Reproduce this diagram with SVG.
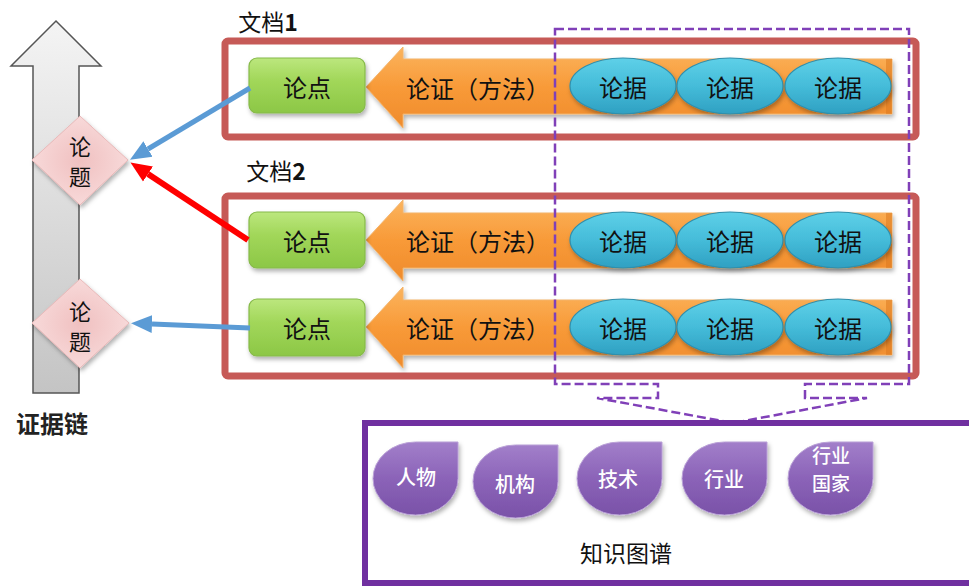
<svg xmlns="http://www.w3.org/2000/svg" width="969" height="588" viewBox="0 0 969 588">
<style>
text{font-family:"Noto Sans CJK SC","Liberation Sans",sans-serif;dominant-baseline:central;text-anchor:middle;fill:#111}
.lbl{font-size:24px}
.dia{font-size:22px}
.kg{font-size:20px;fill:#fff;font-weight:500}
.redbox{fill:none;stroke:#c65a57;stroke-width:7}
.green{fill:url(#gGreen);stroke:#86b94a;stroke-width:1.2;filter:url(#sh)}
.orange{fill:url(#gOrange);stroke:#f3b36b;stroke-width:1;filter:url(#sh)}
.ell{fill:url(#gBlue);stroke:#2e8fae;stroke-width:1.2;filter:url(#sh)}
.diamond{fill:url(#gPink);stroke:#e8b8b8;stroke-width:1;filter:url(#sh)}
.drop{fill:url(#gPurple);stroke:#b9a0d6;stroke-width:1;filter:url(#sh)}
.dash{fill:none;stroke:#8040b8;stroke-width:2.5;stroke-dasharray:9 4}
</style>
<defs>
<filter id="sh" x="-20%" y="-20%" width="140%" height="150%">
<feDropShadow dx="1.5" dy="3" stdDeviation="2" flood-color="#000" flood-opacity="0.3"/>
</filter>
<linearGradient id="gArrow" x1="0" y1="0" x2="0" y2="1">
<stop offset="0" stop-color="#f4f4f4"/><stop offset="1" stop-color="#c4c4c4"/>
</linearGradient>
<linearGradient id="gGreen" x1="0" y1="0" x2="0" y2="1">
<stop offset="0" stop-color="#bce77e"/><stop offset="0.4" stop-color="#a2d75a"/><stop offset="1" stop-color="#8cc746"/>
</linearGradient>
<linearGradient id="gOrange" x1="0" y1="0" x2="0" y2="1">
<stop offset="0" stop-color="#fbb45e"/><stop offset="0.5" stop-color="#f89a38"/><stop offset="1" stop-color="#ef8b2c"/>
</linearGradient>
<linearGradient id="gBlue" x1="0" y1="0" x2="0" y2="1">
<stop offset="0" stop-color="#5ed0e8"/><stop offset="0.5" stop-color="#45bcd9"/><stop offset="1" stop-color="#2fa0c2"/>
</linearGradient>
<radialGradient id="gPink" cx="0.5" cy="0.5" r="0.6">
<stop offset="0" stop-color="#f0c0c0"/><stop offset="1" stop-color="#f9dede"/>
</radialGradient>
<linearGradient id="gPurple" x1="0" y1="0" x2="0" y2="1">
<stop offset="0" stop-color="#a27fca"/><stop offset="0.5" stop-color="#8b63b8"/><stop offset="1" stop-color="#7a52a8"/>
</linearGradient>
<path id="drop" d="M85,0 V36.5 A42.5 36.5 0 0 1 42.5 73 A42.5 36.5 0 0 1 0 36.5 A42.5 36.5 0 0 1 42.5 0 Z"/>
<marker id="mBlue" markerUnits="userSpaceOnUse" markerWidth="24" markerHeight="20" refX="0" refY="10" orient="auto" viewBox="0 0 24 20">
<path d="M0,1 L21,10 L0,19 Z" fill="#5b9bd5"/>
</marker>
<marker id="mRed" markerUnits="userSpaceOnUse" markerWidth="24" markerHeight="20" refX="0" refY="10" orient="auto" viewBox="0 0 24 20">
<path d="M0,1 L21,10 L0,19 Z" fill="#ff0000"/>
</marker>
</defs>
<rect width="969" height="588" fill="#fff"/>

<g id="chain">
<path d="M56,21 L101,66 H79 V393 H33 V66 H11 Z" fill="url(#gArrow)" stroke="#555" stroke-width="1.5" stroke-linejoin="miter"/>
<text x="52" y="422" style="font-size:24px;font-weight:bold;fill:#222">证据链</text>
</g>

<g id="topic1">
<path class="diamond" d="M80,116 L128,160 L80,205 L32,160 Z"/>
<text class="dia" x="80" y="145">论</text>
<text class="dia" x="80" y="175">题</text>
</g>
<g id="topic2">
<path class="diamond" d="M80,279 L129,323 L80,368 L32,323 Z"/>
<text class="dia" x="80" y="310">论</text>
<text class="dia" x="80" y="340">题</text>
</g>

<g id="doc1">
<text x="268" y="21" style="font-size:23px">文档<tspan style="font-weight:bold">1</tspan></text>
<rect class="redbox" x="225" y="41" width="691" height="96" rx="3"/>
</g>
<g id="doc2">
<text x="276" y="170" style="font-size:23px">文档<tspan style="font-weight:bold">2</tspan></text>
<rect class="redbox" x="225" y="196" width="691" height="180" rx="3"/>
</g>

<g id="row1">
<path class="orange" d="M366,87 L403,47 V59 H892 V114 H403 V128 Z"/>
<path d="M886,59 L892,59 L892,114 L886,114 Z" fill="#d9761c" opacity="0.5"/>
<text class="lbl" x="478" y="87">论证（方法）</text>
<rect class="green" x="249" y="58" width="116" height="55" rx="8"/>
<text class="lbl" x="307" y="86">论点</text>
<ellipse class="ell" cx="623" cy="86" rx="53" ry="28"/>
<text class="lbl" x="623" y="86">论据</text>
<ellipse class="ell" cx="730" cy="86" rx="53" ry="28"/>
<text class="lbl" x="730" y="86">论据</text>
<ellipse class="ell" cx="838" cy="86" rx="53" ry="28"/>
<text class="lbl" x="838" y="86">论据</text>
</g>

<g id="row2">
<path class="orange" d="M366,240 L403,200 V213 H892 V268 H403 V281 Z"/>
<path d="M886,213 L892,213 L892,268 L886,268 Z" fill="#d9761c" opacity="0.5"/>
<text class="lbl" x="478" y="240">论证（方法）</text>
<rect class="green" x="249" y="212" width="116" height="56" rx="8"/>
<text class="lbl" x="307" y="240">论点</text>
<ellipse class="ell" cx="623" cy="240" rx="53" ry="28"/>
<text class="lbl" x="623" y="240">论据</text>
<ellipse class="ell" cx="730" cy="240" rx="53" ry="28"/>
<text class="lbl" x="730" y="240">论据</text>
<ellipse class="ell" cx="838" cy="240" rx="53" ry="28"/>
<text class="lbl" x="838" y="240">论据</text>
</g>

<g id="row3">
<path class="orange" d="M366,327 L403,287 V300 H892 V355 H403 V368 Z"/>
<path d="M886,300 L892,300 L892,355 L886,355 Z" fill="#d9761c" opacity="0.5"/>
<text class="lbl" x="478" y="327">论证（方法）</text>
<rect class="green" x="249" y="299" width="116" height="57" rx="8"/>
<text class="lbl" x="307" y="327">论点</text>
<ellipse class="ell" cx="623" cy="327" rx="53" ry="28"/>
<text class="lbl" x="623" y="327">论据</text>
<ellipse class="ell" cx="730" cy="327" rx="53" ry="28"/>
<text class="lbl" x="730" y="327">论据</text>
<ellipse class="ell" cx="838" cy="327" rx="53" ry="28"/>
<text class="lbl" x="838" y="327">论据</text>
</g>

<g id="connectors">
<line x1="250" y1="88" x2="148" y2="149" stroke="#5b9bd5" stroke-width="5" marker-end="url(#mBlue)"/>
<line x1="248" y1="240" x2="148" y2="174" stroke="#ff0000" stroke-width="6" marker-end="url(#mRed)"/>
<line x1="250" y1="328" x2="152" y2="324" stroke="#5b9bd5" stroke-width="5" marker-end="url(#mBlue)"/>
<path class="dash" d="M555,29 H909 V384 H805 V398 H867 L733,423 L597,398 H658 V384 H555 Z"/>
</g>

<g id="kg">
<rect x="365" y="423" width="620" height="160" fill="#fff" stroke="#7030a0" stroke-width="6"/>
<text x="626" y="552" style="font-size:23px">知识图谱</text>
</g>
<g id="kg-person">
<use href="#drop" class="drop" x="373" y="442"/>
<text class="kg" x="416" y="476">人物</text>
</g>
<g id="kg-org">
<use href="#drop" class="drop" x="473" y="445"/>
<text class="kg" x="515" y="483">机构</text>
</g>
<g id="kg-tech">
<use href="#drop" class="drop" x="577" y="442"/>
<text class="kg" x="618" y="478">技术</text>
</g>
<g id="kg-industry">
<use href="#drop" class="drop" x="682" y="442"/>
<text class="kg" x="724" y="478">行业</text>
</g>
<g id="kg-country">
<use href="#drop" class="drop" x="788" y="442"/>
<text class="kg" x="831" y="454" style="font-size:19px">行业</text>
<text class="kg" x="831" y="482" style="font-size:19px">国家</text>
</g>
</svg>
